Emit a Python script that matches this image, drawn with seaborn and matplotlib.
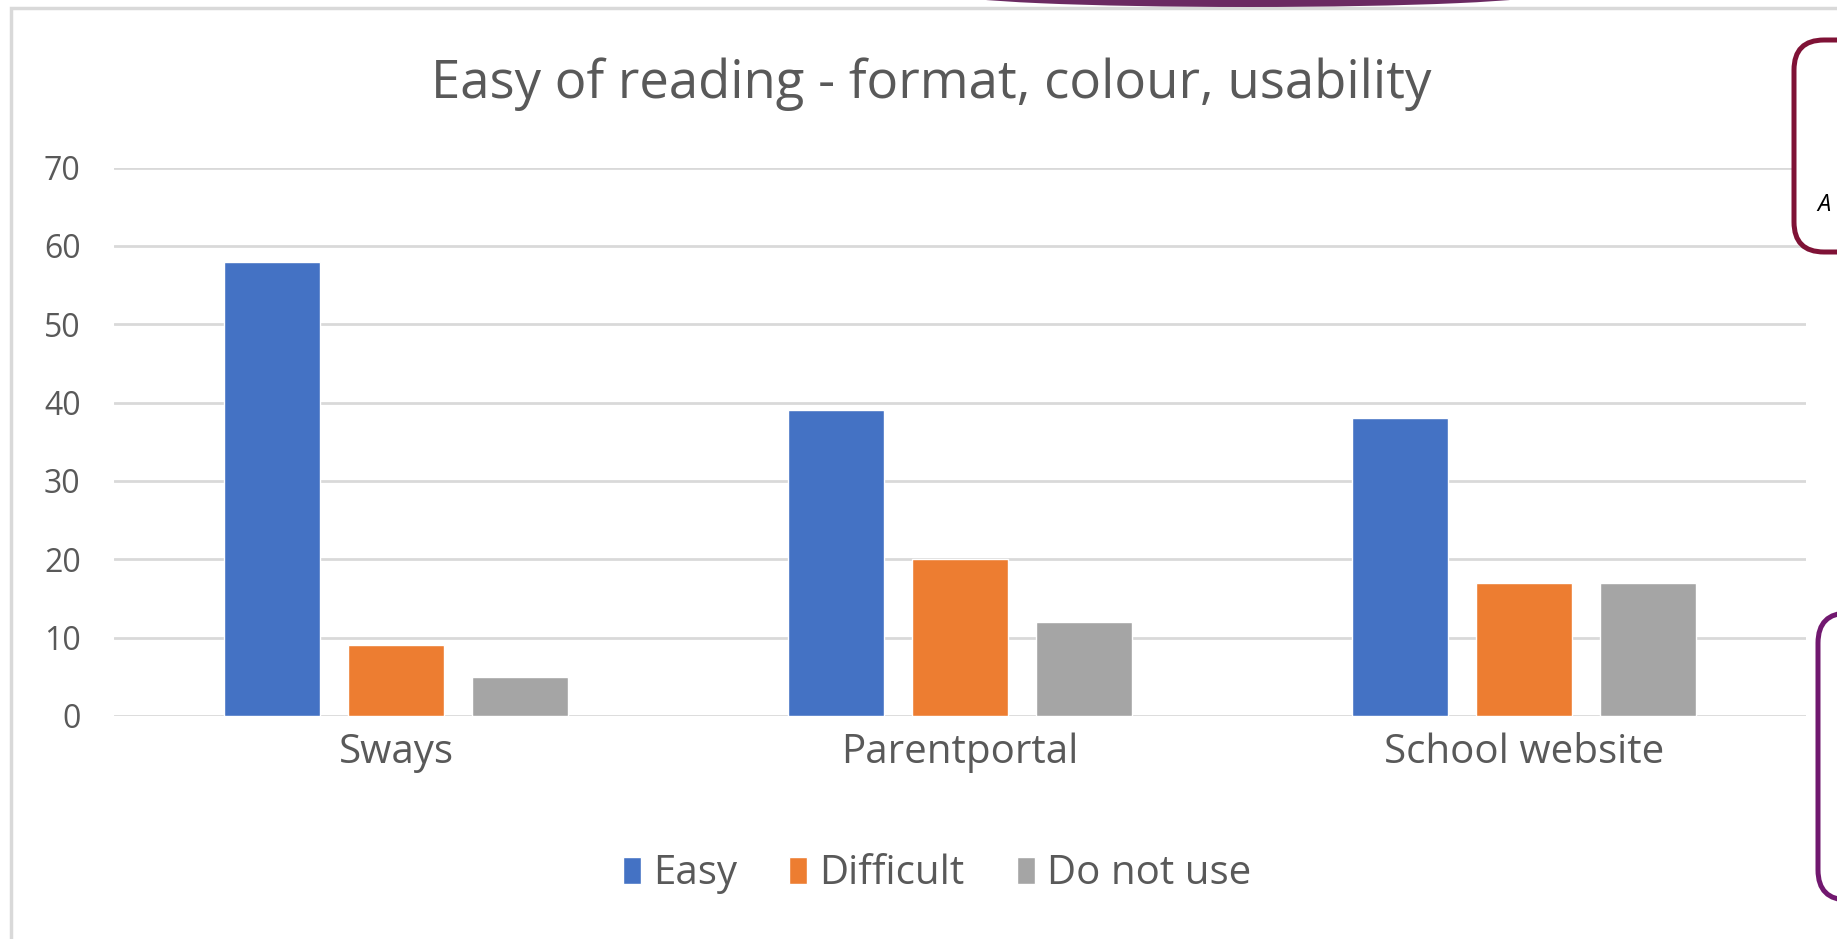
"""Grouped bar chart: ease of reading per channel."""

import seaborn as sns
import matplotlib.pyplot as plt
import pandas as pd
from matplotlib.patches import FancyBboxPatch, Ellipse, Rectangle

# Data
channels = ["Sways", "Parentportal", "School website"]
answers = ["Easy", "Difficult", "Do not use"]
easy = [58, 39, 38]
difficult = [9, 20, 17]
do_not_use = [5, 12, 17]
y_ticks = [0, 10, 20, 30, 40, 50, 60, 70]

colours = ["#4472C4", "#ED7D31", "#A5A5A5"]
text_grey = "#595959"
grid_grey = "#D9D9D9"

df = pd.DataFrame({
    "channel": channels * 3,
    "answer": [a for a in answers for _ in channels],
    "count": easy + difficult + do_not_use,
})

sns.set_theme(style="white")
plt.rcParams["font.family"] = ["Open Sans", "DejaVu Sans"]

W, H = 1837, 939
fig = plt.figure(figsize=(W / 100, H / 100), dpi=100)
fig.patch.set_facecolor("white")

# outer chart frame (left and top edges visible)
fig.add_artist(Rectangle((11, -20), 2000, H - 8 + 20, transform=None,
                         facecolor="none", edgecolor=grid_grey, linewidth=2.5))

ax = fig.add_axes([114 / W, 1 - 716 / H, (1806 - 114) / W, (716 - 167.5) / H])
sns.barplot(data=df, x="channel", y="count", hue="answer", order=channels,
            hue_order=answers, palette=colours, width=0.66, gap=0.22,
            saturation=1, ax=ax, legend=True, zorder=3)

ax.set_ylim(0, 70)
ax.set_xlim(-0.5, 2.5)
ax.set_yticks(y_ticks)
ax.yaxis.grid(True, color=grid_grey, linewidth=2, zorder=0)
ax.set_axisbelow(True)
for s in ax.spines.values():
    s.set_visible(False)
ax.tick_params(axis="y", length=0, pad=24, labelsize=23, labelcolor=text_grey)
ax.tick_params(axis="x", length=0, pad=12, labelsize=29, labelcolor=text_grey)
ax.set_xlabel("")
ax.set_ylabel("")

# legend below the plot
handles, labels = ax.get_legend_handles_labels()
ax.get_legend().remove()
fig.legend(handles, labels, loc="center", bbox_to_anchor=(937 / W, 1 - 874 / H),
           ncol=3, frameon=False, fontsize=29, labelcolor=text_grey,
           handlelength=0.45, handleheight=0.65, handletextpad=0.3,
           columnspacing=1.3)

fig.text(931 / W, 1 - 84 / H, "Easy of reading - format, colour, usability",
         ha="center", va="center", fontsize=38, color=text_grey)

# decorations from the surrounding slide
fig.add_artist(Ellipse((1248, H + 6), 590, 26, transform=None,
                       facecolor="#6B2A62", edgecolor="none"))
fig.add_artist(FancyBboxPatch((1794, H - 252), 200, 212, transform=None,
                              boxstyle="round,pad=0,rounding_size=30",
                              facecolor="white", edgecolor="#7F1236",
                              linewidth=3.6))
fig.add_artist(FancyBboxPatch((1818, H - 900), 200, 287, transform=None,
                              boxstyle="round,pad=0,rounding_size=30",
                              facecolor="white", edgecolor="#71186F",
                              linewidth=3.6))
fig.text(1817 / W, 1 - 205 / H, "A", fontsize=17, style="italic",
         color="black", ha="left", va="center")

fig.savefig("out.png", dpi=100)
